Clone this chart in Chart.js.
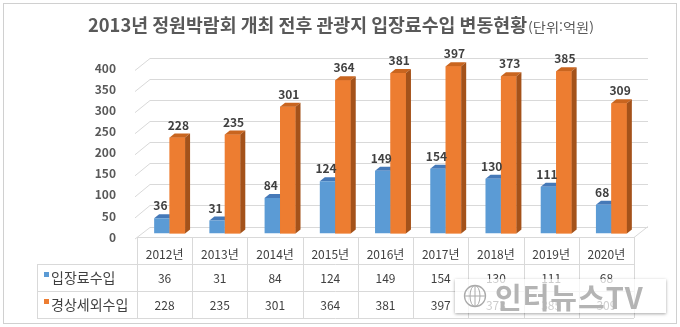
<!DOCTYPE html>
<html lang="ko">
<head>
<meta charset="utf-8">
<script src="https://cdn.jsdelivr.net/npm/chart.js@4/dist/chart.umd.min.js"></script>
<style>
  html, body { margin: 0; padding: 0; background: #fff; }
  #wrap { position: relative; width: 680px; height: 327px; }
  canvas { display: block; }
  #stamp {
    position: absolute; left: 455px; top: 279px; width: 211px; height: 34px;
    background: rgba(255,255,255,0.74);
    box-shadow: 0 1px 3px rgba(0,0,0,0.35);
    display: flex; align-items: center;
    font-family: "Noto Sans CJK KR", sans-serif; font-weight: bold;
    font-size: 29px; color: #b4b4b4; letter-spacing: 1px;
  }
  #stamp svg { margin: 0 8px 0 8px; }
</style>
</head>
<body>
<div id="wrap">
  <canvas id="c" width="680" height="327"></canvas>
  <div id="stamp">
    <svg width="24" height="24" viewBox="0 0 24 24">
      <circle cx="12" cy="12" r="10.5" fill="none" stroke="#aaa" stroke-width="1.3"/>
      <ellipse cx="12" cy="12" rx="5" ry="10.5" fill="none" stroke="#aaa" stroke-width="1"/>
      <line x1="1.5" y1="12" x2="22.5" y2="12" stroke="#aaa" stroke-width="1"/>
      <line x1="12" y1="1.5" x2="12" y2="22.5" stroke="#aaa" stroke-width="1"/>
    </svg>
    <span>인터뉴스TV</span>
  </div>
</div>
<script>
// Years shown on the category axis and in the data table
const categories = ['2012년', '2013년', '2014년', '2015년', '2016년', '2017년', '2018년', '2019년', '2020년'];
// Revenue series (unit: 100 million won)
const admissionRevenue = [36, 31, 84, 124, 149, 154, 130, 111, 68];
const nonTaxRevenue = [228, 235, 301, 364, 381, 397, 373, 385, 309];
const seriesNames = ['입장료수입', '경상세외수입'];
// Value axis
const yMin = 0;
const yMax = 400;
const yStep = 50;

const titleMain = '2013년 정원박람회 개최 전후 관광지 입장료수입 변동현황';
const titleUnit = '(단위:억원)';

const FONT = '"Noto Sans CJK KR", "Noto Sans", sans-serif';
const frontColors = ['#5B9BD5', '#ED7D31'];
const topColors = ['#4579B8', '#C9651F'];
const sideColors = ['#3A6698', '#A4521A'];
const GRID = '#d9d9d9';

// depth offsets of the pseudo-3D box relative to the bar plane
const BACK = { dx: 8, dy: -7 };
const FRONT = { dx: -5, dy: 3.5 };
const BAR_DEPTH = { dx: 5, dy: -4 };

function faceTop(ctx, x0, x1, y, color) {
  ctx.fillStyle = color;
  ctx.beginPath();
  ctx.moveTo(x0, y);
  ctx.lineTo(x1, y);
  ctx.lineTo(x1 + BAR_DEPTH.dx, y + BAR_DEPTH.dy);
  ctx.lineTo(x0 + BAR_DEPTH.dx, y + BAR_DEPTH.dy);
  ctx.closePath();
  ctx.fill();
}
function faceSide(ctx, x1, y, base, color) {
  ctx.fillStyle = color;
  ctx.beginPath();
  ctx.moveTo(x1, y);
  ctx.lineTo(x1 + BAR_DEPTH.dx, y + BAR_DEPTH.dy);
  ctx.lineTo(x1 + BAR_DEPTH.dx, base + BAR_DEPTH.dy);
  ctx.lineTo(x1, base);
  ctx.closePath();
  ctx.fill();
}

// back wall, gridlines, floor and outer frame
const wallPlugin = {
  id: 'wall',
  beforeDraw(chart) {
    const { ctx, chartArea: a, scales: { y } } = chart;
    ctx.save();
    ctx.fillStyle = '#fff';
    ctx.fillRect(0, 0, chart.width, chart.height);
    ctx.strokeStyle = '#d0d0d0';
    ctx.lineWidth = 1;
    ctx.strokeRect(3.5, 3.5, 673, 320);

    ctx.strokeStyle = GRID;
    for (let v = yMin; v <= yMax; v += yStep) {
      const py = y.getPixelForValue(v);
      const by = Math.round(py + BACK.dy) + 0.5;
      ctx.beginPath();
      ctx.moveTo(a.left + FRONT.dx - 2, py + FRONT.dy + 2);
      ctx.lineTo(a.left + BACK.dx, by);
      ctx.lineTo(a.right + BACK.dx + 1, by);
      ctx.stroke();
    }
    // floor front edge
    const fy = Math.round(y.getPixelForValue(0) + FRONT.dy) + 0.5;
    ctx.beginPath();
    ctx.moveTo(a.left + FRONT.dx, fy);
    ctx.lineTo(a.right + FRONT.dx, fy);
    ctx.lineTo(a.right + BACK.dx + 1, y.getPixelForValue(0) + BACK.dy);
    ctx.stroke();
    ctx.restore();
  }
};

// top faces of the first series go under the second series' fronts
const depthPlugin = {
  id: 'depth',
  beforeDatasetsDraw(chart) {
    const ctx = chart.ctx;
    ctx.save();
    chart.getDatasetMeta(0).data.forEach(el => {
      const x0 = el.x - el.width / 2, x1 = el.x + el.width / 2;
      faceTop(ctx, x0, x1, el.y, topColors[0]);
      faceSide(ctx, x1, el.y, el.base, sideColors[0]);
    });
    ctx.restore();
  },
  afterDatasetsDraw(chart) {
    const ctx = chart.ctx;
    ctx.save();
    chart.getDatasetMeta(1).data.forEach(el => {
      const x0 = el.x - el.width / 2, x1 = el.x + el.width / 2;
      ctx.fillStyle = frontColors[1];
      ctx.fillRect(x0, el.y, el.width, el.base - el.y);
      faceTop(ctx, x0, x1, el.y, topColors[1]);
      faceSide(ctx, x1, el.y, el.base, sideColors[1]);
    });
    // value labels
    ctx.font = 'bold 12px ' + FONT;
    ctx.fillStyle = '#404040';
    ctx.textAlign = 'center';
    ctx.textBaseline = 'middle';
    chart.data.datasets.forEach((ds, di) => {
      chart.getDatasetMeta(di).data.forEach((el, i) => {
        ctx.fillText(String(ds.data[i]), el.x + (di === 0 ? -1.5 : 1), el.y - 12.5);
      });
    });
    ctx.restore();
  }
};

// title and data table
const tablePlugin = {
  id: 'table',
  afterDraw(chart) {
    const { ctx, scales: { x } } = chart;
    ctx.save();

    // title: main text plus smaller unit note
    ctx.fillStyle = '#595959';
    ctx.textBaseline = 'middle';
    ctx.textAlign = 'left';
    ctx.font = 'bold 18px ' + FONT;
    const wMain = ctx.measureText(titleMain).width;
    const sx = 439 / wMain;
    ctx.save();
    ctx.translate(88, 25);
    ctx.scale(sx, 1);
    ctx.fillText(titleMain, 0, 0);
    ctx.restore();
    ctx.font = '13px ' + FONT;
    const wUnit = ctx.measureText(titleUnit).width;
    ctx.save();
    ctx.translate(528, 27);
    ctx.scale(66 / wUnit, 1);
    ctx.fillText(titleUnit, 0, 0);
    ctx.restore();

    // table grid
    const colW = x.getPixelForValue(1) - x.getPixelForValue(0);
    const colX = i => x.getPixelForValue(i) + FRONT.dx;
    const firstLeft = colX(0) - colW / 2;
    const lastRight = colX(categories.length - 1) + colW / 2;
    const tableLeft = firstLeft - 100;
    const topY = Math.round(chart.scales.y.getPixelForValue(0) + FRONT.dy);
    const rowLines = [264, 291, 318];

    ctx.strokeStyle = GRID;
    ctx.lineWidth = 1;
    ctx.beginPath();
    for (let k = 0; k <= categories.length; k++) {
      const lx = Math.round(firstLeft + k * colW) + 0.5;
      ctx.moveTo(lx, topY);
      ctx.lineTo(lx, rowLines[2]);
    }
    rowLines.forEach(ry => {
      ctx.moveTo(tableLeft, ry + 0.5);
      ctx.lineTo(lastRight, ry + 0.5);
    });
    ctx.moveTo(tableLeft + 0.5, rowLines[0]);
    ctx.lineTo(tableLeft + 0.5, rowLines[2]);
    ctx.stroke();

    // header years
    ctx.fillStyle = '#404040';
    ctx.textAlign = 'center';
    ctx.font = '12px ' + FONT;
    categories.forEach((c, i) => ctx.fillText(c, colX(i), 254));

    // series rows
    const rows = [admissionRevenue, nonTaxRevenue];
    const rowY = [278, 305];
    rows.forEach((vals, r) => {
      ctx.fillStyle = frontColors[r];
      ctx.fillRect(44, rowY[r] - 6, 5, 5);
      ctx.fillStyle = '#404040';
      ctx.textAlign = 'left';
      ctx.font = '14px ' + FONT;
      ctx.fillText(seriesNames[r], 51, rowY[r]);
      ctx.textAlign = 'center';
      ctx.font = '12px ' + FONT;
      vals.forEach((v, i) => ctx.fillText(String(v), colX(i), rowY[r]));
    });
    ctx.restore();
  }
};

new Chart(document.getElementById('c'), {
  type: 'bar',
  data: {
    labels: categories,
    datasets: [
      { label: seriesNames[0], data: admissionRevenue, backgroundColor: frontColors[0] },
      { label: seriesNames[1], data: nonTaxRevenue, backgroundColor: frontColors[1] }
    ]
  },
  options: {
    responsive: false,
    animation: false,
    devicePixelRatio: 1,
    layout: { padding: { top: 65, right: 41, bottom: 93.5, left: 0 } },
    datasets: { bar: { categoryPercentage: 0.56, barPercentage: 1 } },
    plugins: { legend: { display: false }, tooltip: { enabled: false }, title: { display: false } },
    scales: {
      x: { display: false },
      y: {
        min: yMin,
        max: yMax,
        afterFit(s) { s.width = 142; },
        ticks: {
          stepSize: yStep,
          padding: 18,
          labelOffset: 3.5,
          color: '#595959',
          font: { family: FONT, size: 12, weight: 'bold' }
        },
        grid: { display: false },
        border: { display: false }
      }
    }
  },
  plugins: [wallPlugin, depthPlugin, tablePlugin]
});
</script>
</body>
</html>
